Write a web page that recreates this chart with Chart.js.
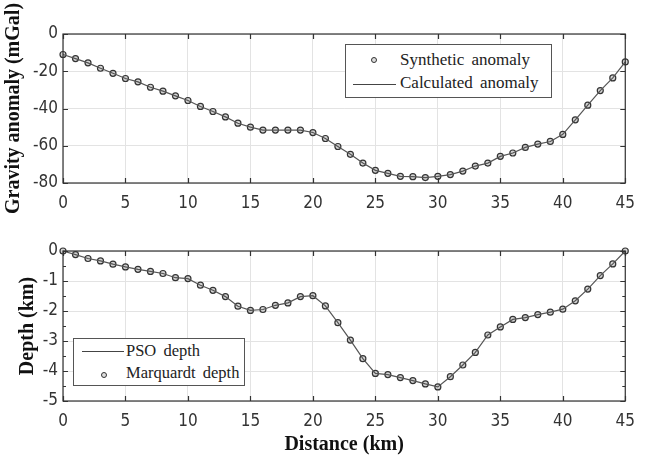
<!DOCTYPE html>
<html>
<head>
<meta charset="utf-8">
<script src="https://cdn.jsdelivr.net/npm/chart.js@4/dist/chart.umd.min.js"></script>
<style>
  html, body { margin:0; padding:0; background:#fff; }
  body { width:645px; height:459px; position:relative; overflow:hidden; font-family:"Liberation Serif","DejaVu Serif",serif; }
  .wrap { position:absolute; left:0; width:645px; }
  .legend { position:absolute; background:#fff; border:1px solid #555; box-sizing:border-box; font-size:16.5px; color:#222; word-spacing:3px; }
  .row { position:absolute; left:0; right:0; height:20px; line-height:20px; }
  .row span.t { position:absolute; white-space:nowrap; }
  .mk { position:absolute; width:4px; height:4px; border:1px solid #333; border-radius:50%; background:rgba(200,200,200,0.6); }
  .ln { position:absolute; height:0; border-top:1.3px solid #444; }
</style>
</head>
<body>
<div class="wrap" style="top:0;height:215px;"><canvas id="c1" width="645" height="215"></canvas></div>
<div class="wrap" style="top:215px;height:244px;"><canvas id="c2" width="645" height="244"></canvas></div>

<div class="legend" style="left:345px;top:44px;width:207px;height:54px;font-size:17px;">
  <div class="row" style="top:5px;"><div class="mk" style="left:25px;top:7px;"></div><span class="t" style="left:54px;">Synthetic anomaly</span></div>
  <div class="row" style="top:28px;"><div class="ln" style="left:7px;width:43px;top:11px;"></div><span class="t" style="left:54px;">Calculated anomaly</span></div>
</div>
<div class="legend" style="left:73px;top:338px;width:172px;height:48px;">
  <div class="row" style="top:2px;"><div class="ln" style="left:8px;width:42px;top:10px;"></div><span class="t" style="left:52px;">PSO depth</span></div>
  <div class="row" style="top:24px;"><div class="mk" style="left:27px;top:9px;"></div><span class="t" style="left:52px;">Marquardt depth</span></div>
</div>

<script>
const distance = [0,1,2,3,4,5,6,7,8,9,10,11,12,13,14,15,16,17,18,19,20,21,22,23,24,25,26,27,28,29,30,31,32,33,34,35,36,37,38,39,40,41,42,43,44,45];
const syntheticAnomaly = [-11,-13.2,-15.5,-18.4,-21.1,-23.9,-25.7,-28.6,-30.7,-33.2,-35.7,-38.9,-41.6,-44.5,-47.9,-50,-51.6,-51.6,-51.6,-51.6,-52.9,-56.1,-60.4,-64.6,-69.3,-73.2,-74.8,-76.4,-76.6,-77.1,-76.4,-75.5,-73.6,-70.9,-69.3,-65.7,-63.9,-60.9,-59.1,-57.7,-53.9,-46.1,-38.2,-30.4,-23.6,-15];
const calculatedAnomaly = [-11,-13.2,-15.5,-18.4,-21.1,-23.9,-25.7,-28.6,-30.7,-33.2,-35.7,-38.9,-41.6,-44.5,-47.9,-50,-51.6,-51.6,-51.6,-51.6,-52.9,-56.1,-60.4,-64.6,-69.3,-73.2,-74.8,-76.4,-76.6,-77.1,-76.4,-75.5,-73.6,-70.9,-69.3,-65.7,-63.9,-60.9,-59.1,-57.7,-53.9,-46.1,-38.2,-30.4,-23.6,-15];
const psoDepth = [0,-0.12,-0.25,-0.33,-0.44,-0.53,-0.61,-0.68,-0.75,-0.89,-0.92,-1.14,-1.31,-1.52,-1.84,-1.98,-1.95,-1.81,-1.73,-1.52,-1.49,-1.83,-2.39,-2.97,-3.59,-4.08,-4.12,-4.22,-4.32,-4.43,-4.53,-4.19,-3.80,-3.38,-2.80,-2.53,-2.28,-2.22,-2.12,-2.04,-1.94,-1.66,-1.27,-0.82,-0.43,0];
const marquardtDepth = [0,-0.12,-0.25,-0.33,-0.44,-0.53,-0.61,-0.68,-0.75,-0.89,-0.92,-1.14,-1.31,-1.52,-1.84,-1.98,-1.95,-1.81,-1.73,-1.52,-1.49,-1.83,-2.39,-2.97,-3.59,-4.08,-4.12,-4.22,-4.32,-4.43,-4.53,-4.19,-3.80,-3.38,-2.80,-2.53,-2.28,-2.22,-2.12,-2.04,-1.94,-1.66,-1.27,-0.82,-0.43,0];
const xTicks = [0,5,10,15,20,25,30,35,40,45];
const gravTicks = [0,-20,-40,-60,-80];
const depthTicks = [0,-1,-2,-3,-4,-5];
const depthMinor = [-0.5,-1.5,-2.5,-3.5,-4.5];

const SERIF = '"Liberation Serif", "Times New Roman", serif';
const TICKFONT = '"Liberation Sans Narrow", "DejaVu Sans Condensed", "Liberation Sans", sans-serif';
Chart.defaults.font.family = SERIF;
const pts = arr => distance.map((d,i)=>({x:d,y:arr[i]}));

function framePlugin(yMajor, yMinor){
  return {
    id:'frame',
    afterDraw(chart){
      const {ctx, chartArea:a, scales:{x,y}} = chart;
      ctx.save();
      ctx.strokeStyle = '#333';
      ctx.lineWidth = 1.2;
      ctx.beginPath();
      const L = 5, l = 3;
      xTicks.forEach(v=>{
        const px = Math.round(x.getPixelForValue(v))+0.5;
        ctx.moveTo(px,a.bottom); ctx.lineTo(px,a.bottom-L);
        ctx.moveTo(px,a.top); ctx.lineTo(px,a.top+L);
      });
      yMajor.forEach(v=>{
        const py = Math.round(y.getPixelForValue(v))+0.5;
        ctx.moveTo(a.left,py); ctx.lineTo(a.left+L,py);
        ctx.moveTo(a.right,py); ctx.lineTo(a.right-L,py);
      });
      yMinor.forEach(v=>{
        const py = Math.round(y.getPixelForValue(v))+0.5;
        ctx.moveTo(a.left,py); ctx.lineTo(a.left+l,py);
        ctx.moveTo(a.right,py); ctx.lineTo(a.right-l,py);
      });
      ctx.stroke();
      ctx.strokeRect(a.left, a.top, a.right-a.left, a.bottom-a.top);
      ctx.restore();
    }
  };
}

function makeOptions(cfg){
  return {
    responsive:false,
    animation:false,
    layout:{padding:{top:cfg.padTop,right:10,left:cfg.padLeft,bottom:0}},
    plugins:{legend:{display:false},tooltip:{enabled:false}},
    scales:{
      x:{
        type:'linear', min:0, max:45,
        afterBuildTicks(s){ s.ticks = xTicks.map(v=>({value:v})); },
        afterFit(s){ s.height = cfg.xHeight; },
        grid:{color:'#e3e3e3', drawTicks:false, lineWidth:1},
        border:{display:false},
        ticks:{font:{family:TICKFONT,size:17}, color:'#333', padding:10, maxRotation:0},
        title:cfg.xTitle ? {display:true, text:cfg.xTitle, font:{family:SERIF,size:20,weight:'bold'}, color:'#111', padding:{top:0,bottom:2}} : {display:false}
      },
      y:{
        type:'linear', min:cfg.yMin, max:0,
        afterBuildTicks(s){ s.ticks = cfg.yTicks.map(v=>({value:v})); },
        afterFit(s){ s.width = cfg.yWidth; },
        grid:{color:'#e3e3e3', drawTicks:false, lineWidth:1},
        border:{display:false},
        ticks:{font:{family:TICKFONT,size:17}, color:'#333', padding:5},
        title:{display:true, text:cfg.yTitle, font:{family:SERIF,size:20,weight:'bold'}, color:'#111', padding:{top:2,bottom:0}}
      }
    }
  };
}

const lineStyle = {borderColor:'#555', borderWidth:1.2, pointRadius:0, fill:false, tension:0, clip:false};
const markStyle = {showLine:false, pointRadius:3, pointBorderWidth:1.2, pointBorderColor:'#333', pointBackgroundColor:'rgba(170,170,170,0.5)', borderColor:'#333', clip:false};

new Chart(document.getElementById('c1'), {
  type:'line',
  data:{datasets:[
    Object.assign({label:'Calculated anomaly', data:pts(calculatedAnomaly)}, lineStyle),
    Object.assign({label:'Synthetic anomaly', data:pts(syntheticAnomaly)}, markStyle)
  ]},
  options: makeOptions({padTop:34, padLeft:0, yWidth:63, xHeight:32, yMin:-80, yTicks:gravTicks, yTitle:'Gravity anomaly (mGal)'}),
  plugins:[framePlugin(gravTicks, [])]
});

new Chart(document.getElementById('c2'), {
  type:'line',
  data:{datasets:[
    Object.assign({label:'PSO depth', data:pts(psoDepth)}, lineStyle),
    Object.assign({label:'Marquardt depth', data:pts(marquardtDepth)}, markStyle)
  ]},
  options: makeOptions({padTop:36, padLeft:14, yWidth:49, xHeight:58, yMin:-5, yTicks:depthTicks, yTitle:'Depth (km)', xTitle:'Distance (km)'}),
  plugins:[framePlugin(depthTicks, depthMinor)]
});
</script>
</body>
</html>
